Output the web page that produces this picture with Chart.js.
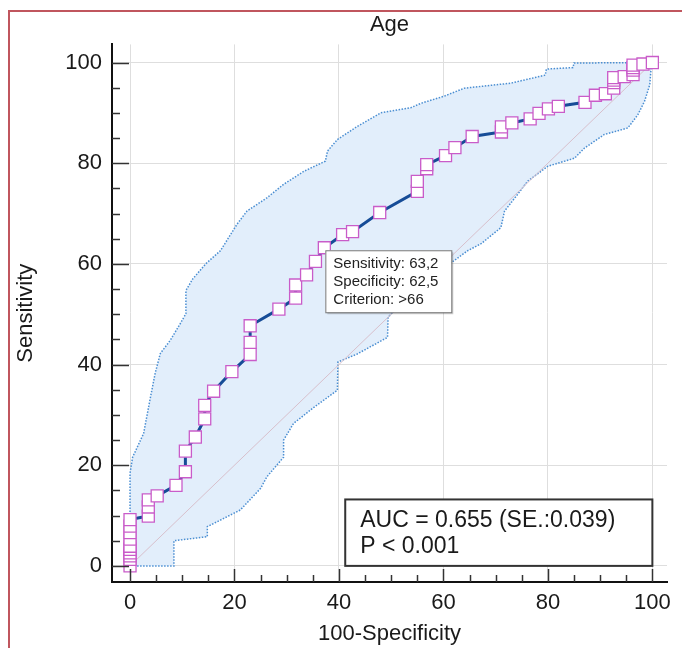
<!DOCTYPE html>
<html>
<head>
<meta charset="utf-8">
<script src="https://cdn.jsdelivr.net/npm/chart.js@4.4.1/dist/chart.umd.min.js"></script>
<style>
  html, body { margin: 0; padding: 0; background: #fff; }
  #wrap { width: 682px; height: 648px; }
</style>
</head>
<body>
<div id="wrap"><canvas id="roc" width="682" height="648"></canvas></div>
<script>
// ROC curve points (100-Specificity, Sensitivity)
const rocX = [0, 0, 0, 0, 0, 0, 0, 0, 0, 0,
  3.5, 3.5, 3.5, 5.2, 8.8, 10.6, 10.6, 12.5, 14.3, 14.3, 16, 19.5, 23, 23, 23, 28.5,
  31.7, 31.7, 33.8, 35.5, 37.2, 40.7, 42.6, 47.8, 55, 55, 56.8, 56.8, 60.4, 62.2, 65.5,
  71.1, 71.1, 73.1, 76.6, 78.3, 80.1, 82, 87.1, 89.1, 91, 92.6, 92.6, 92.6, 92.6,
  94.6, 96.3, 96.3, 96.3, 96.3, 98.2, 100];
const rocY = [0, 1.3, 2, 2.6, 3.3, 3.9, 5.3, 6.6, 7.9, 9.2,
  9.9, 11.7, 13.1, 13.9, 16, 18.7, 22.8, 25.6, 29.2, 31.9, 34.7, 38.6, 42, 44.4, 47.7, 51,
  53.2, 55.8, 57.8, 60.5, 63.2, 65.8, 66.4, 70.2, 74.4, 76.4, 78.9, 79.7, 81.5, 83.1, 85.3,
  86.2, 87.2, 88, 88.8, 89.9, 90.8, 91.3, 92.1, 93.5, 93.8, 94.9, 96, 96.5, 97,
  97.2, 97.6, 98.5, 99, 99.5, 99.7, 100];

// 95% confidence bounds
const upperX = [0, 0, 0.5, 2.6, 3.8, 4.8, 5.8, 7.7, 9.6, 10.7, 10.7, 12, 14.5, 17.3, 20.5, 22.4,
  26.2, 29.4, 33.3, 37.4, 37.8, 39.7, 43.5, 48, 53.7, 55.7, 60.1, 64, 72.9, 79.5, 79.7, 84.8, 85, 100];
const upperY = [0, 18.4, 21.6, 26.3, 32.9, 38.2, 42.2, 44.8, 48.1, 50.1, 54.7, 57, 60, 62.6, 67.9, 70.5,
  73.1, 75.8, 78.4, 80.4, 82.4, 84.7, 87.3, 90, 91, 91.9, 93.3, 94.9, 95.9, 97.5, 98.7, 99, 99.9, 100];
const lowerX = [0, 8.4, 8.4, 14.8, 14.8, 17.3, 21.1, 25, 26.2, 29.4, 29.4, 31.3, 35.2, 39.7, 39.8,
  43.5, 49.3, 49.4, 51.2, 58.9, 62, 64.6, 67.2, 71, 71.7, 74.2, 76.1, 80, 85.1, 87, 90.8, 95.3,
  97.2, 98.5, 99.5, 99.8, 100];
const lowerY = [0, 0, 5, 5.8, 7.8, 9.1, 11.1, 15.4, 17.7, 21.6, 25, 28.3, 31.5, 34.9, 40.5,
  42.1, 45.4, 49.4, 51.3, 58.6, 60.6, 62.6, 64, 67.2, 70.5, 73.8, 76.4, 79.4, 81, 83, 85.7, 87,
  89.6, 92.3, 95.6, 99.5, 100];

const xTicks = [0, 20, 40, 60, 80, 100];
const yTicks = [0, 20, 40, 60, 80, 100];

const criterionIdx = 30;
const criterionLines = ['Sensitivity: 63,2', 'Specificity: 62,5', 'Criterion: >66'];
const aucLines = ['AUC = 0.655 (SE.:0.039)', 'P < 0.001'];

const FONT = "'Liberation Sans', Arial, sans-serif";

const toPts = (xs, ys) => xs.map((x, i) => ({ x, y: ys[i] }));
const bandPts = toPts(upperX, upperY).concat(toPts(lowerX, lowerY).reverse());

// inward axis ticks, boxes and the red frame
const decor = {
  id: 'decor',
  beforeDraw(chart) {
    const c = chart.ctx;
    c.save();
    c.strokeStyle = '#c0565e';
    c.lineWidth = 2;
    c.beginPath();
    c.moveTo(9, 648);
    c.lineTo(9, 11);
    c.lineTo(682, 11);
    c.stroke();
    c.restore();
  },
  afterDraw(chart) {
    const c = chart.ctx;
    const xs = chart.scales.x, ys = chart.scales.y;
    const area = chart.chartArea;
    c.save();
    c.strokeStyle = '#333';
    c.lineWidth = 1.5;
    for (let v = 0; v <= 100; v += 5) {
      const major = v % 20 === 0;
      const py = Math.round(ys.getPixelForValue(v)) + 0.5;
      c.beginPath();
      c.moveTo(area.left, py);
      c.lineTo(area.left + (major ? 17 : 8), py);
      c.stroke();
      const px = Math.round(xs.getPixelForValue(v)) + 0.5;
      c.beginPath();
      c.moveTo(px, area.bottom);
      c.lineTo(px, area.bottom - (major ? 13 : 7));
      c.stroke();
    }

    // criterion label box
    const px = xs.getPixelForValue(rocX[criterionIdx]) + 1;
    const py = ys.getPixelForValue(rocY[criterionIdx]) + 2.5;
    const bw = 126, bh = 62;
    c.fillStyle = 'rgba(0,0,0,0.18)';
    c.fillRect(px + 2, py + 2, bw, bh);
    c.fillStyle = '#fff';
    c.fillRect(px, py, bw, bh);
    c.strokeStyle = '#777';
    c.lineWidth = 1;
    c.strokeRect(px + 0.5, py + 0.5, bw, bh);
    c.fillStyle = '#222';
    c.font = '15px ' + FONT;
    c.textBaseline = 'middle';
    c.textAlign = 'left';
    criterionLines.forEach((t, i) => c.fillText(t, px + 8, py + 14 + i * 17.8));

    // AUC box
    const ax0 = xs.getPixelForValue(41.2), ax1 = xs.getPixelForValue(100);
    const ay0 = ys.getPixelForValue(13.2), ay1 = ys.getPixelForValue(0);
    c.fillStyle = '#fff';
    c.fillRect(ax0, ay0, ax1 - ax0, ay1 - ay0);
    c.strokeStyle = '#333';
    c.lineWidth = 2;
    c.strokeRect(ax0, ay0, ax1 - ax0, ay1 - ay0);
    c.fillStyle = '#1a1a1a';
    c.font = '23px ' + FONT;
    aucLines.forEach((t, i) => c.fillText(t, ax0 + 15, ay0 + 21 + i * 26));
    c.restore();
  }
};

new Chart(document.getElementById('roc'), {
  type: 'scatter',
  data: {
    datasets: [
      {
        data: toPts(rocX, rocY),
        showLine: true,
        borderColor: '#164c97',
        borderWidth: 3,
        pointStyle: 'rect',
        pointRadius: 8.5,
        pointBackgroundColor: '#fff',
        pointBorderColor: '#c95cc9',
        pointBorderWidth: 1.3,
        order: 1
      },
      {
        data: [{ x: 0, y: 0 }, { x: 100, y: 100 }],
        showLine: true,
        borderColor: '#d8c0cc',
        borderWidth: 1,
        pointRadius: 0,
        order: 2
      },
      {
        data: bandPts,
        showLine: true,
        fill: 'shape',
        backgroundColor: '#e2eefb',
        borderColor: '#4a8ed2',
        borderWidth: 1.5,
        borderDash: [1.5, 1.5],
        pointRadius: 0,
        order: 3
      }
    ]
  },
  options: {
    responsive: false,
    animation: false,
    layout: { padding: { left: 0, right: 15, top: 0, bottom: 0 } },
    plugins: {
      legend: { display: false },
      tooltip: { enabled: false },
      title: {
        display: true,
        text: 'Age',
        fullSize: false,
        color: '#1a1a1a',
        font: { family: FONT, size: 22, weight: 'normal' },
        padding: { top: 12, bottom: 6 }
      }
    },
    scales: {
      x: {
        type: 'linear',
        min: -3.45,
        max: 102.8,
        afterBuildTicks: s => { s.ticks = xTicks.map(v => ({ value: v })); },
        afterFit: s => { s.height = 66; },
        grid: { color: '#dedede', lineWidth: 1, drawTicks: false },
        border: { display: true, color: '#111', width: 2 },
        ticks: { color: '#1a1a1a', padding: 8, font: { family: FONT, size: 22 } },
        title: {
          display: true,
          text: '100-Specificity',
          color: '#1a1a1a',
          font: { family: FONT, size: 22 },
          padding: { top: 0, bottom: 1 }
        }
      },
      y: {
        type: 'linear',
        min: -3.2,
        max: 103.6,
        afterBuildTicks: s => { s.ticks = yTicks.map(v => ({ value: v })); },
        afterFit: s => { s.width = 112; },
        grid: { color: '#dedede', lineWidth: 1, drawTicks: false },
        border: { display: true, color: '#111', width: 2 },
        ticks: { color: '#1a1a1a', padding: 10, font: { family: FONT, size: 22 } },
        title: {
          display: true,
          text: 'Sensitivity',
          color: '#1a1a1a',
          font: { family: FONT, size: 22 },
          padding: { top: 13, bottom: 0 }
        }
      }
    }
  },
  plugins: [decor]
});
</script>
</body>
</html>
